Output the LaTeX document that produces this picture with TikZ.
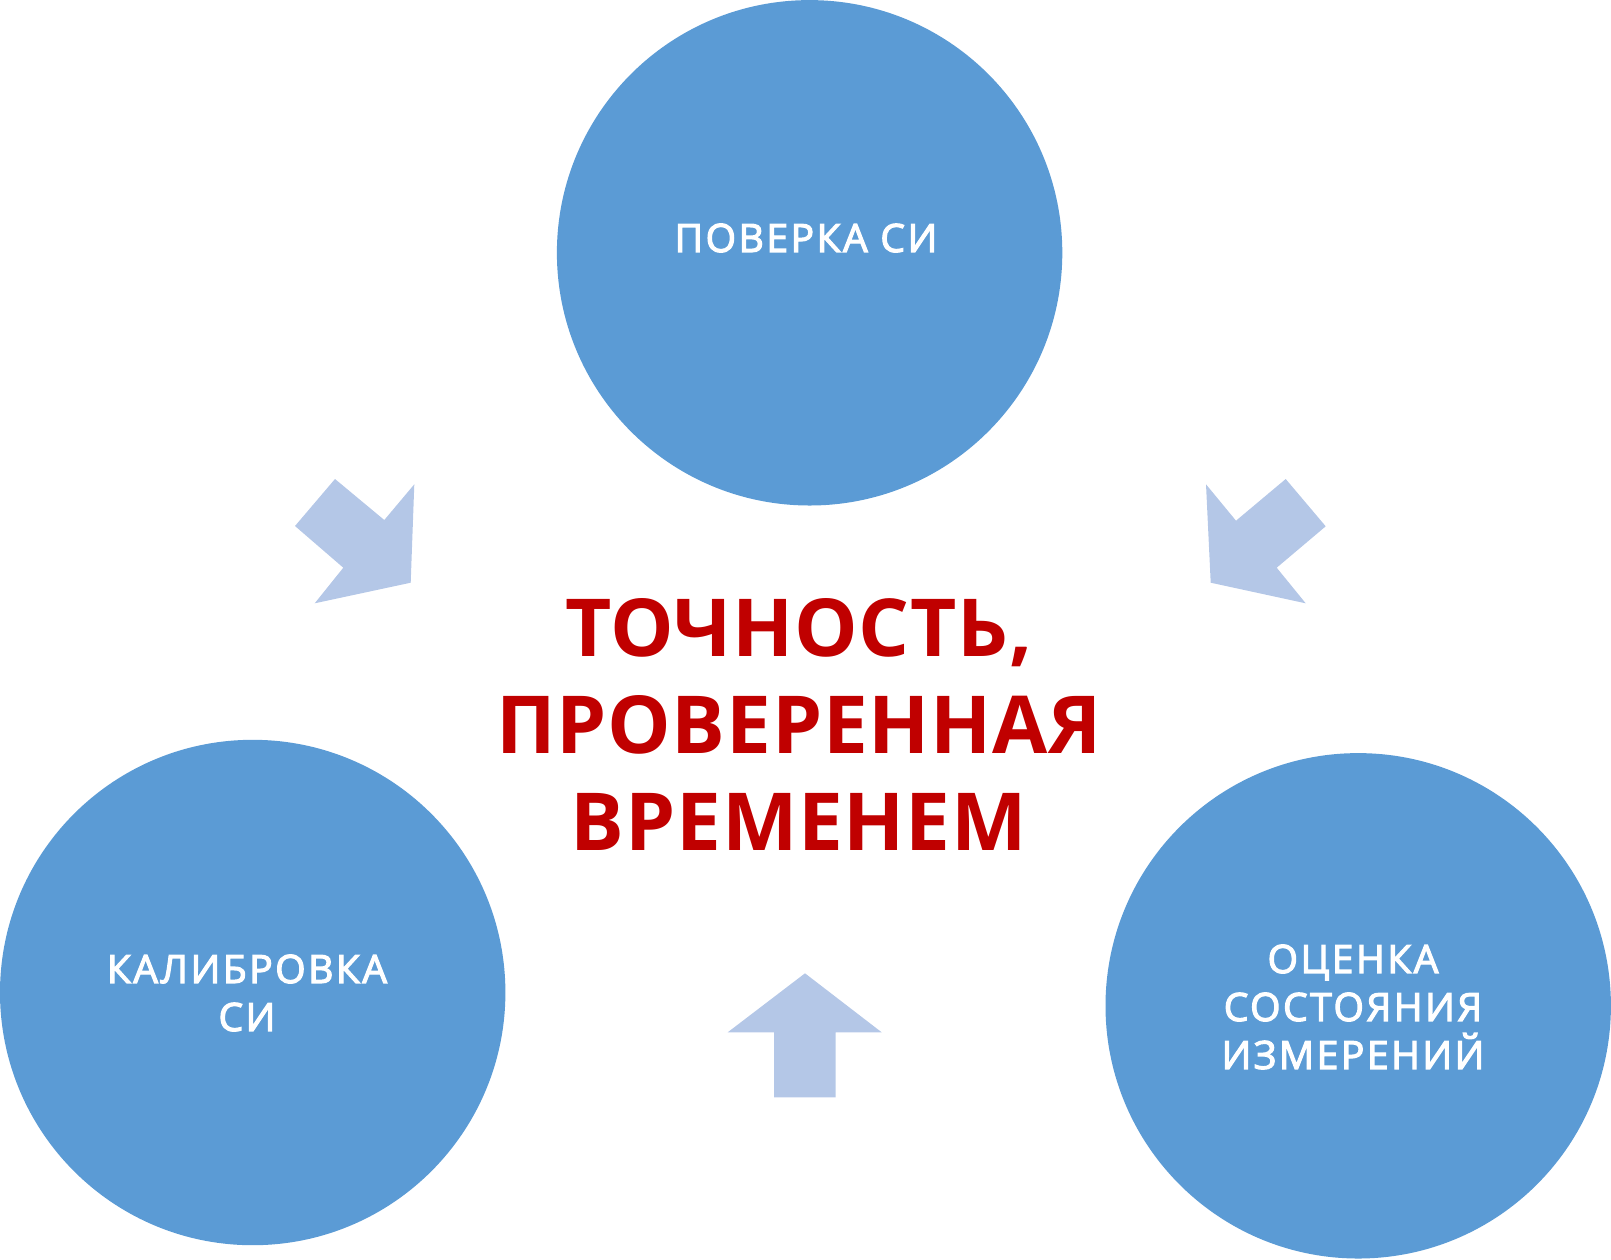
\documentclass[tikz,border=0pt]{standalone}
\usepackage{fontspec}
\setmainfont{Open Sans}
\newfontfamily\whitefont[LetterSpace=6.5,FakeBold=3]{Open Sans}
\newfontfamily\titlefont[LetterSpace=1]{Open Sans}
\definecolor{circblue}{HTML}{5B9BD5}
\definecolor{arrblue}{HTML}{B4C7E7}
\definecolor{titlered}{HTML}{C00000}
\begin{document}
\begin{tikzpicture}[x=1pt,y=-1pt,
  bigcirc/.style={circle,fill=circblue,draw=none,minimum size=505.4pt,inner sep=0pt},
  circtext/.style={text=white,align=center,font=\whitefont\fontsize{39}{48}\selectfont},
  shape arrow/.style={fill=arrblue,draw=none}]
\useasboundingbox (0,0) rectangle (1611,1259);
\node[bigcirc] (top) at (809.6,252.8) {};
\node[bigcirc] (left) at (252.7,992.5) {};
\node[bigcirc] (right) at (1358.2,1005.8) {};
\node[circtext] (toptext) at (806,238) {ПОВЕРКА СИ};
\node[circtext] (lefttext) at (247,993) {КАЛИБРОВКА\\СИ};
\node[circtext] (righttext) at (1353,1007) {ОЦЕНКА\\СОСТОЯНИЯ\\ИЗМЕРЕНИЙ};
\node[text=titlered,align=center,font=\titlefont\bfseries\fontsize{80}{97}\selectfont] (title) at (799,724) {ТОЧНОСТЬ,\\ПРОВЕРЕННАЯ\\ВРЕМЕНЕМ};
\fill[shape arrow] (335,479) -- (384.3,520) -- (414.3,484.3) -- (410.7,582.7) -- (314.7,603.3) -- (343.3,567.7) -- (295,526) -- cycle;
\fill[shape arrow] (1285.7,479) -- (1236,520.7) -- (1206,484.3) -- (1210.7,582.7) -- (1305.7,603.3) -- (1276.7,567.7) -- (1325.7,526.3) -- cycle;
\fill[shape arrow] (805,973.3) -- (881.7,1032.3) -- (835.7,1032.3) -- (835.7,1097.3) -- (774,1097.3) -- (774,1032.3) -- (727.7,1032.3) -- cycle;
\end{tikzpicture}
\end{document}
